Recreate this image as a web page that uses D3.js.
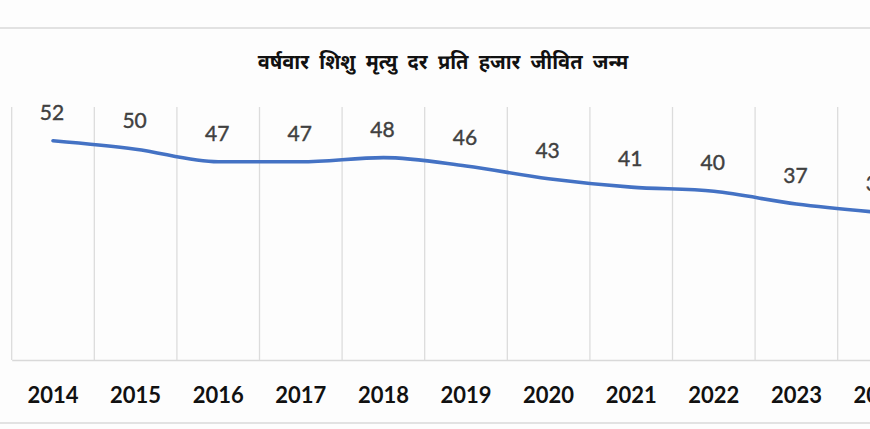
<!DOCTYPE html>
<html>
<head>
<meta charset="utf-8">
<script src="https://cdn.jsdelivr.net/npm/d3@7"></script>
<style>
  html, body { margin: 0; padding: 0; background: #fdfdfd; }
  svg { display: block; }
</style>
</head>
<body>
<div id="chart"></div>
<script>
// infant mortality rate per 1000 live births, by year
var years = ["2014", "2015", "2016", "2017", "2018", "2019", "2020", "2021", "2022", "2023", "2024"];
var rates = [52, 50, 47, 47, 48, 46, 43, 41, 40, 37, 35];
var chartTitle = "वर्षवार शिशु मृत्यु दर प्रति हजार जीवित जन्म";

var W = 870, H = 429;
var margin = { top: 107, left: 11.7 },
	bandW = 82.6,
	plotBottom = 360;

var svg = d3.select("#chart").append("svg")
	.attr("width", W)
	.attr("height", H);

svg.append("rect")
	.attr("width", W).attr("height", H)
	.attr("fill", "#fdfdfd");

// frame lines of the screenshot
svg.append("line")
	.attr("x1", 0).attr("x2", W).attr("y1", 28).attr("y2", 28)
	.attr("stroke", "#e2e2e2").attr("stroke-width", 2);
svg.append("line")
	.attr("x1", 0).attr("x2", W).attr("y1", 423).attr("y2", 423)
	.attr("stroke", "#e2e2e2").attr("stroke-width", 2);

var x = d3.scaleBand()
	.domain(years)
	.range([margin.left, margin.left + bandW * years.length]);

var y = d3.scaleLinear()
	.domain([0, 60])
	.range([plotBottom, margin.top]);

// vertical gridlines at category boundaries
var bounds = years.map(function (d) { return x(d); });
bounds.push(x(years[years.length - 1]) + x.bandwidth());
svg.append("g").selectAll("line").data(bounds).enter()
	.append("line")
	.attr("x1", function (d) { return d; })
	.attr("x2", function (d) { return d; })
	.attr("y1", margin.top)
	.attr("y2", plotBottom)
	.attr("stroke", "#dcdcdc")
	.attr("stroke-width", 1.3);

// x axis
var xAxis = d3.axisBottom(x).tickSize(0).tickPadding(0);
var gx = svg.append("g")
	.attr("transform", "translate(0," + plotBottom + ")")
	.call(xAxis);
gx.select(".domain")
	.attr("stroke", "#d9d9d9")
	.attr("stroke-width", 1.5);
gx.selectAll("text")
	.attr("y", 43)
	.attr("dy", null)
	.style("font-family", "Lato, 'Open Sans', sans-serif")
	.style("font-weight", "bold")
	.style("font-size", "22px")
	.attr("fill", "#111");

// line
var line = d3.line()
	.x(function (d, i) { return x(years[i]) + x.bandwidth() / 2; })
	.y(function (d) { return y(d); })
	.curve(d3.curveMonotoneX);

svg.append("path")
	.datum(rates)
	.attr("d", line)
	.attr("fill", "none")
	.attr("stroke", "#4472c4")
	.attr("stroke-width", 3.6)
	.attr("stroke-linecap", "round");

// data labels
svg.append("g").selectAll("text").data(rates).enter()
	.append("text")
	.attr("x", function (d, i) { return x(years[i]) + x.bandwidth() / 2 - 1; })
	.attr("y", function (d) { return y(d) - 21; })
	.attr("text-anchor", "middle")
	.style("font-family", "Lato, 'Open Sans', sans-serif")
	.style("font-size", "21px")
	.style("stroke", "#404040")
	.style("stroke-width", 0.4)
	.attr("fill", "#404040")
	.text(function (d) { return d; });

// title
svg.append("text")
	.attr("x", 443)
	.attr("y", 69)
	.attr("text-anchor", "middle")
	.style("font-family", "'Noto Sans Devanagari', 'Lohit Devanagari', 'Noto Sans', sans-serif")
	.style("font-weight", "bold")
	.style("font-size", "20px")
	.style("word-spacing", "5px")
	.attr("fill", "#111")
	.text(chartTitle);
</script>
</body>
</html>
